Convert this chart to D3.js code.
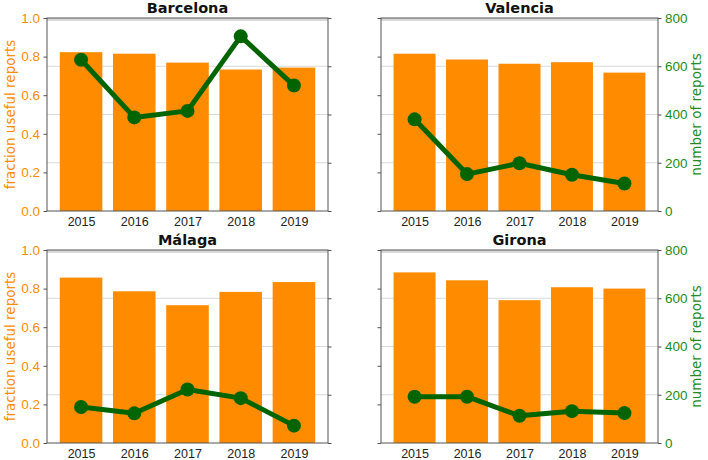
<!DOCTYPE html>
<html>
<head>
<meta charset="utf-8">
<script src="https://cdn.jsdelivr.net/npm/d3@7"></script>
<style>
  body { margin: 0; background: #fff; }
  svg { display: block; font-family: "DejaVu Sans", sans-serif; }
</style>
</head>
<body>
<svg id="chart" width="708" height="460"></svg>
<script>
const years = ["2015", "2016", "2017", "2018", "2019"]
const cities = ["Barcelona", "Valencia", "Málaga", "Girona"]
const fractionUseful = [
  [0.823, 0.815, 0.769, 0.733, 0.743],
  [0.815, 0.785, 0.763, 0.771, 0.717],
  [0.857, 0.786, 0.714, 0.783, 0.834],
  [0.884, 0.843, 0.740, 0.807, 0.800],
]
const reportCounts = [
  [627, 388, 415, 724, 520],
  [380, 153, 198, 150, 114],
  [149, 123, 222, 186, 72],
  [192, 192, 113, 132, 124],
]
const leftTicks = [0, 0.2, 0.4, 0.6, 0.8, 1.0]
const rightTicks = [0, 200, 400, 600, 800]

const orange = "#ff8c00"
const darkGreen = "#006400"
const labelGreen = "#228b22"
const spineColor = "#555"

const svg = d3.select("#chart")

const panels = [
  { x0: 47, x1: 328, y0: 18, y1: 211 },
  { x0: 381, x1: 658, y0: 18, y1: 211 },
  { x0: 47, x1: 328, y0: 250, y1: 443 },
  { x0: 381, x1: 658, y0: 250, y1: 443 },
]

panels.forEach((p, i) => {
  const leftCol = i % 2 === 0
  const w = p.x1 - p.x0
  const h = p.y1 - p.y0
  const g = svg.append("g").attr("transform", `translate(${p.x0},${p.y0})`)

  const x = d3.scaleLinear().domain([-0.64, 4.64]).range([0, w])
  const yL = d3.scaleLinear().domain([0, 1]).range([h, 0])
  const yR = d3.scaleLinear().domain([0, 800]).range([h, 0])
  const barW = x(0.8) - x(0)

  // grid (from right axis), behind bars
  g.append("g")
    .selectAll("line")
    .data(rightTicks.filter((t) => t > 0))
    .join("line")
    .attr("x1", 0).attr("x2", w)
    .attr("y1", (t) => yR(t) + (t === 800 ? 1.5 : 0))
    .attr("y2", (t) => yR(t) + (t === 800 ? 1.5 : 0))
    .attr("stroke", "#d9d9d9")
    .attr("stroke-width", (t) => (t === 800 ? 3 : 1))

  g.append("g")
    .selectAll("rect")
    .data(fractionUseful[i])
    .join("rect")
    .attr("x", (d, k) => x(k) - barW / 2)
    .attr("y", (d) => yL(d))
    .attr("width", barW)
    .attr("height", (d) => h - yL(d))
    .attr("fill", orange)

  const line = d3.line()
    .x((d, k) => x(k))
    .y((d) => yR(d))

  g.append("path")
    .datum(reportCounts[i])
    .attr("d", line)
    .attr("fill", "none")
    .attr("stroke", darkGreen)
    .attr("stroke-width", 5)
    .attr("stroke-linejoin", "round")

  g.append("g")
    .selectAll("circle")
    .data(reportCounts[i])
    .join("circle")
    .attr("cx", (d, k) => x(k))
    .attr("cy", (d) => yR(d))
    .attr("r", 7)
    .attr("fill", darkGreen)

  // x axis
  const xAxis = g.append("g")
    .attr("transform", `translate(0,${h})`)
    .call(d3.axisBottom(x).tickValues([0, 1, 2, 3, 4]).tickFormat((k) => years[k]).tickSize(0).tickPadding(6))
  xAxis.select(".domain").remove()
  xAxis.selectAll("text").attr("fill", "#222").style("font-size", "12.5px")

  // left axis
  const la = g.append("g")
    .call(d3.axisLeft(yL).tickValues(leftTicks).tickFormat(leftCol ? d3.format(".1f") : () => "").tickSize(3.5).tickPadding(3.5))
  la.select(".domain").remove()
  la.selectAll("line").attr("stroke", spineColor)
  la.selectAll("text").attr("fill", orange).style("font-size", "13.5px")

  // right axis
  const ra = g.append("g")
    .attr("transform", `translate(${w},0)`)
    .call(d3.axisRight(yR).tickValues(rightTicks).tickFormat(leftCol ? () => "" : d3.format("d")).tickSize(3.5).tickPadding(3.5))
  ra.select(".domain").remove()
  ra.selectAll("line").attr("stroke", spineColor)
  ra.selectAll("text").attr("fill", labelGreen).style("font-size", "13.5px")

  // spines
  g.append("rect")
    .attr("x", 0).attr("y", 0).attr("width", w).attr("height", h)
    .attr("fill", "none")
    .attr("stroke", spineColor)
    .attr("stroke-width", 1)

  g.append("text")
    .attr("x", w / 2)
    .attr("y", -5)
    .attr("text-anchor", "middle")
    .attr("font-weight", "bold")
    .style("font-size", "14.5px")
    .attr("fill", "#111")
    .text(cities[i])

  if (leftCol) {
    g.append("text")
      .attr("transform", `translate(${10 - p.x0},${h / 2}) rotate(-90)`)
      .attr("text-anchor", "middle")
      .attr("dy", "0.35em")
      .style("font-size", "13.5px")
      .attr("fill", orange)
      .text("fraction useful reports")
  } else {
    g.append("text")
      .attr("transform", `translate(${696 - p.x0},${h / 2}) rotate(-90)`)
      .attr("text-anchor", "middle")
      .attr("dy", "0.35em")
      .style("font-size", "13.5px")
      .attr("fill", labelGreen)
      .text("number of reports")
  }
})
</script>
</body>
</html>
